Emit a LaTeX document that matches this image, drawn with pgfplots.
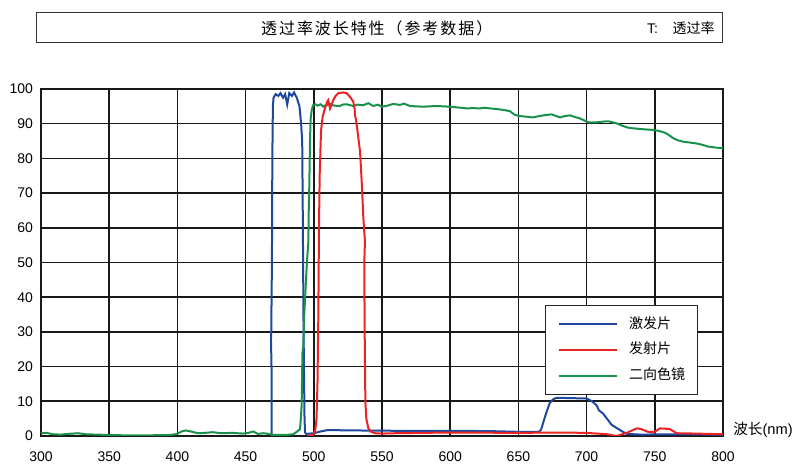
\documentclass[border=0pt]{standalone}
\usepackage{fontspec}
\setmainfont{Liberation Sans}
\newfontfamily\cjk{Noto Sans CJK SC}
\newfontfamily\cjktitle[LetterSpace=12]{Noto Sans CJK SC}
\usepackage{pgfplots}
\pgfplotsset{compat=1.18}
\definecolor{blueC}{RGB}{30,72,160}
\definecolor{redC}{RGB}{235,35,35}
\definecolor{greenC}{RGB}{25,145,75}
\begin{document}
\begin{tikzpicture}
\path (-30.75pt,-19.5pt) rectangle (571.5pt,327pt);
\begin{axis}[
  at={(0pt,0pt)}, anchor=south west,
  width=511.5pt, height=260.25pt, scale only axis,
  xmin=300, xmax=800, ymin=0, ymax=100,
  xtick={300,350,...,800}, ytick={0,10,...,100},
  grid=major,
  major grid style={black!90, line width=1.2pt},
  axis line style={black!90, line width=1.2pt},
  major tick length=0pt,
  tick label style={font=\fontsize{10.5}{12}\selectfont},
  /pgf/number format/assume math mode=true,
  /pgf/number format/1000 sep={},
  xticklabel style={yshift=-8.3pt},
  yticklabel style={xshift=-2.5pt},
  xlabel={{\cjk 波长}(nm)},
  xlabel style={at={(axis description cs:1,0)}, anchor=west, inner sep=0pt, xshift=7.5pt, yshift=4.5pt, font=\fontsize{11}{12}\selectfont},
  legend style={at={(0.739,0.3775)}, anchor=north west, draw=black!85, line width=0.75pt, inner xsep=9pt, inner ysep=9.5pt, row sep=10.3pt, column sep=8.25pt, font=\fontsize{10.5}{12}\selectfont\cjk, nodes={inner sep=0pt, text height=7.5pt, text depth=1.5pt}},
  legend cell align=left,
  legend image code/.code={\draw[#1] (0pt,0pt) -- (44pt,0pt);},
]
\addlegendimage{blueC, line width=1.5pt}
\addlegendimage{redC, line width=1.5pt}
\addlegendimage{greenC, line width=1.5pt}
\legend{激发片,发射片,二向色镜}
% excitation (blue)
\addplot[blueC, line width=1.5pt, forget plot] coordinates {
(469.0,0) (469.0,20) (468.6,28) (468.8,30) (469.3,50) (469.6,80) (470.0,95) (470.5,97.5)
(472,98.5) (474,98) (475.5,98.8) (477.5,97.5) (479,98.5) (480.5,95.5) (482,98.8) (484,98)
(485.5,99) (487.5,97.5) (489.5,95) (490.7,90) (491.5,85) (492,60) (492.5,30) (493.2,5)
(493.6,1) (494.5,0.6) (500,0.8) (505,1.3) (510,1.7) (530,1.6) (560,1.5) (600,1.5)
(630,1.4) (650,1.2) (665,1.2) (666.6,1.8) (668.3,4) (670.7,7) (673,9.5) (675.6,10.6)
(678,11) (690,10.9) (700,10.8) (704,10) (707.4,8.8) (709,7.4) (712,6.5) (714.7,5.1)
(718.4,3.2) (724.5,1.7) (729.4,0.6) (740,0.4) (760,0.5) (800,0.4)
};
% dichroic (green)
\addplot[greenC, line width=1.5pt, forget plot] coordinates {
(300,0.8) (304,0.9) (309,0.5) (314,0.4) (320,0.6) (327,0.8) (333,0.5) (340,0.4)
(360,0.2) (380,0.2) (395,0.3) (400,0.6) (403,1.3) (406,1.6) (410,1.3) (415,0.8)
(420,0.9) (426,1.1) (432,0.8) (440,0.9) (448,0.7) (452,0.9) (455.6,1.3) (459,0.6)
(463,0.8) (467,0.6) (470,0.3) (480,0.3) (485,0.5) (487.5,1.2) (489.9,2) (490.5,5)
(491.1,9) (491.5,20) (491.7,24) (492.3,26) (493,35) (494.8,49) (496,56) (496.3,65)
(496.7,72) (497.2,85) (497.7,91.5) (498.5,94) (499.6,95.4) (501,95.6) (503,95.2)
(505,95.6) (507,94.9) (509,95.3) (511.9,95.7) (515,95.2) (519.2,95.1) (521,95.5)
(524.1,95.6) (528.9,95.1) (532,95.5) (536,95.3) (540,95.9) (543.6,95.1) (547,95.5)
(549.8,94.9) (553,95.1) (558.3,95.7) (563.2,95.4) (566,95.8) (570.5,95.1) (575,95.0)
(580.3,94.9) (585,95.0) (590,95.1) (595,95.0) (599.9,94.9) (604.8,94.7) (608,94.6)
(612,94.4) (617,94.5) (621.8,94.4) (625,94.6) (629.2,94.4) (632,94.3) (636.5,94.1)
(640,93.9) (643.8,93.6) (647.5,92.5) (651.2,92.2) (656,92.0) (660.9,91.8) (664,92.1)
(668.3,92.4) (674.4,92.7) (677,92.3) (680.5,91.8) (684,92.2) (687.8,92.4) (691,92.0)
(695.2,91.5) (698,91.0) (701.2,90.4) (707.4,90.4) (712,90.6) (715.9,90.7) (719,90.4)
(722.1,90.1) (726.9,89.3) (730,88.9) (733.1,88.7) (741.6,88.4) (745,88.3) (749,88.2)
(753,87.9) (757.5,87.4) (760,86.8) (763.6,85.8) (767,85.2) (770.9,84.8) (775,84.6)
(780.7,84.3) (785,83.9) (789.2,83.4) (795,83.1) (800,82.9)
};
% emission (red)
\addplot[redC, line width=1.5pt, forget plot] coordinates {
(495,0) (499.5,0.3) (501,1.5) (502,5) (502.7,15) (503.3,34) (503.8,60) (504.3,75)
(505.3,88) (506.5,92) (508.2,94.5) (510,96.5) (510.6,96.8) (511.9,94.4) (513,95.5)
(514.3,96.8) (516,98) (518,98.8) (521.6,99) (524,98.8) (525.3,98.3) (527,97.5)
(529,96.3) (530,94) (530.2,92.5) (531,91) (532,88) (533.9,82) (535.3,72) (536.3,63)
(537.5,56) (537,50) (537.3,30) (537.8,10) (538.5,5) (540,2.2) (542,1.2) (545,0.8)
(550,0.7) (560,0.8) (600,1.0) (650,0.9) (680,1.0) (700,0.9) (715,0.5) (722,0)
(730,1) (736.7,2.2) (740,2) (745,1.2) (750,1.2) (753.8,2.2) (761,2) (766,0.8)
(780,0.7) (800,0.5)
};
\end{axis}
\draw[black!80, line width=0.75pt] (-3pt,294.75pt) rectangle (510.75pt,317.25pt);
\node[font=\fontsize{12}{14}\selectfont\cjktitle] at (251.8pt,306pt) {透过率波长特性（参考数据）};
\node[anchor=east, inner sep=0pt, font=\fontsize{10.5}{12}\selectfont] at (505.5pt,306pt) {T:\hspace{11pt}{\cjk 透过率}};
\end{tikzpicture}
\end{document}
